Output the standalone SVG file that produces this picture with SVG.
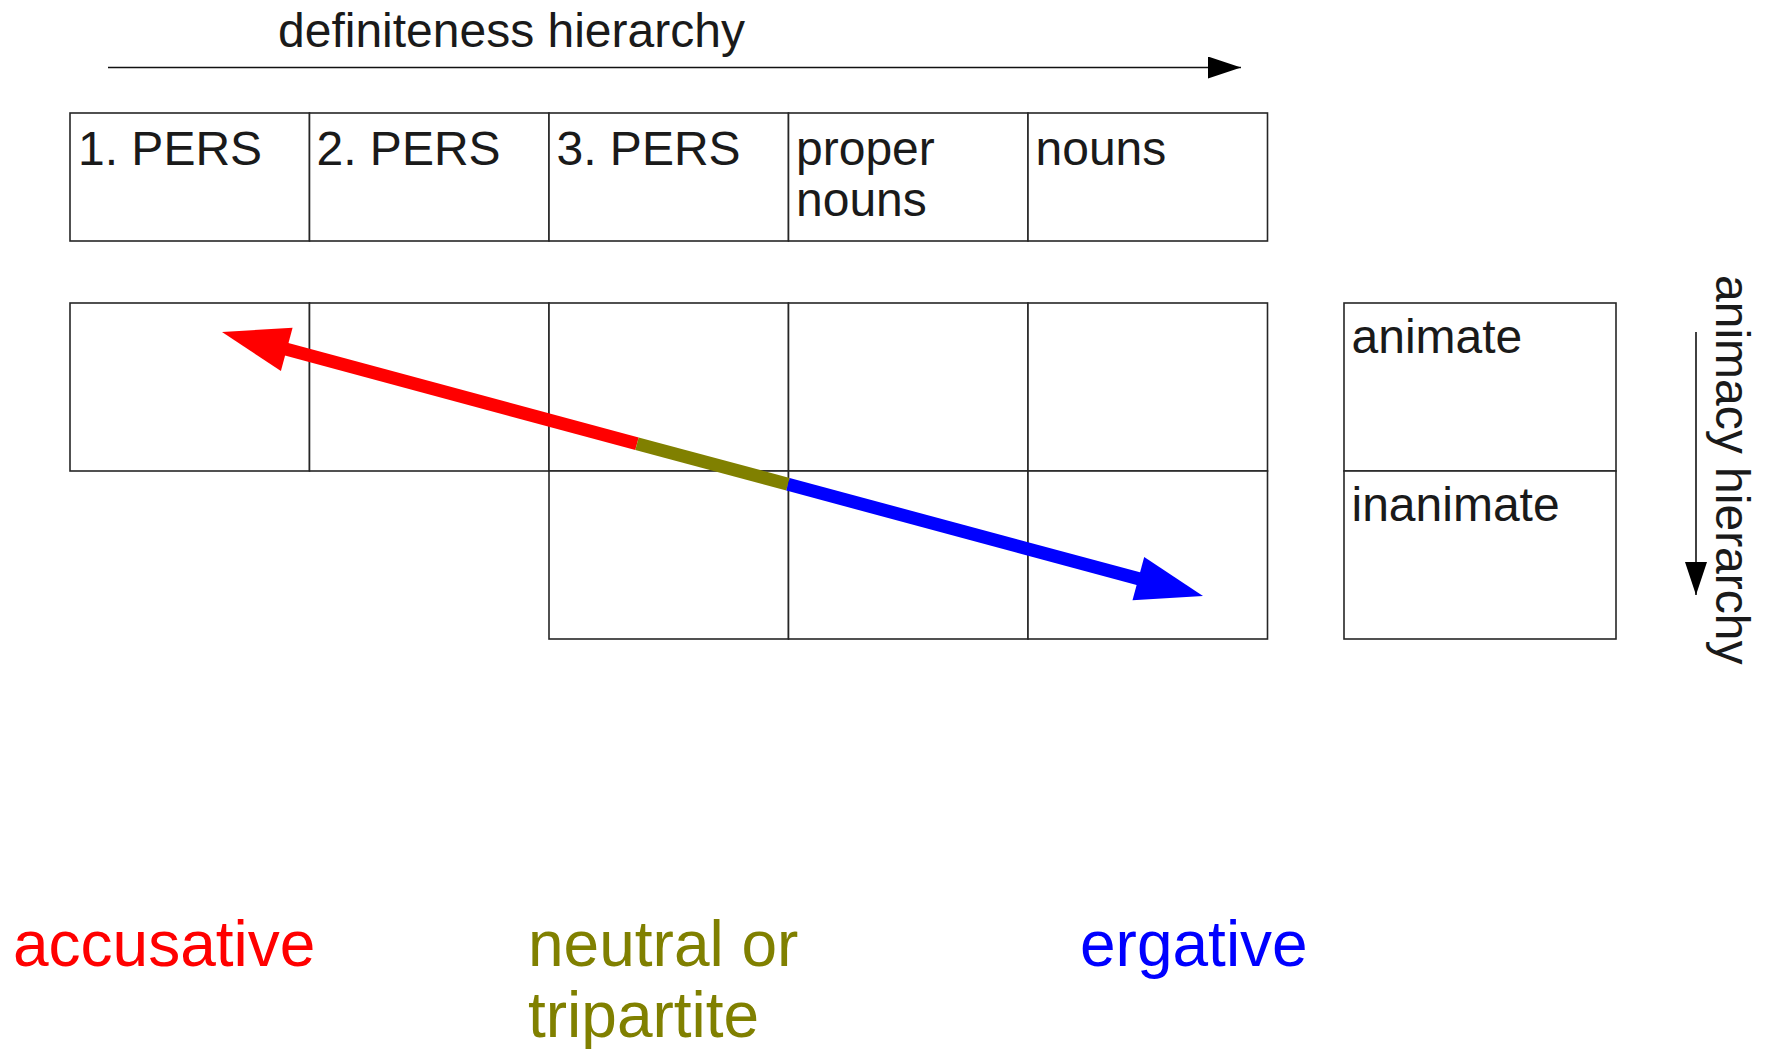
<svg xmlns="http://www.w3.org/2000/svg" width="1774" height="1049" viewBox="0 0 1774 1049">
<style>
text{font-family:"Liberation Sans",Arial,sans-serif;fill:#1a1a1a}
.cell{fill:#fff;stroke:#262626;stroke-width:1.6}
.lbl{font-size:48px}
.big{font-size:64px}
.axis{stroke:#111;stroke-width:1.6;fill:none}
</style>
<defs>
<marker id="ah" markerUnits="userSpaceOnUse" markerWidth="34" markerHeight="23" refX="33" refY="11" orient="auto" viewBox="0 0 34 23">
<path d="M0,0 L33,11 L0,22 z" fill="#000"/>
</marker>
</defs>
<rect width="1774" height="1049" fill="#fff"/>

<g id="definiteness-axis">
<text class="lbl" x="278" y="47">definiteness hierarchy</text>
</g>

<g id="top-row">
<g id="c-1pers"><rect class="cell" x="70" y="113" width="239.5" height="128"/><text class="lbl" x="78" y="165">1. PERS</text></g>
<g id="c-2pers"><rect class="cell" x="309.5" y="113" width="239.5" height="128"/><text class="lbl" x="316.5" y="165">2. PERS</text></g>
<g id="c-3pers"><rect class="cell" x="549" y="113" width="239.5" height="128"/><text class="lbl" x="556.5" y="165">3. PERS</text></g>
<g id="c-proper"><rect class="cell" x="788.5" y="113" width="239.5" height="128"/><text class="lbl" x="796" y="165">proper<tspan x="796" y="216">nouns</tspan></text></g>
<g id="c-nouns"><rect class="cell" x="1028" y="113" width="239.5" height="128"/><text class="lbl" x="1035.5" y="165">nouns</text></g>
</g>

<g id="grid-animate">
<rect class="cell" x="70" y="303" width="239.5" height="168"/>
<rect class="cell" x="309.5" y="303" width="239.5" height="168"/>
<rect class="cell" x="549" y="303" width="239.5" height="168"/>
<rect class="cell" x="788.5" y="303" width="239.5" height="168"/>
<rect class="cell" x="1028" y="303" width="239.5" height="168"/>
</g>
<g id="grid-inanimate">
<rect class="cell" x="549" y="471" width="239.5" height="168"/>
<rect class="cell" x="788.5" y="471" width="239.5" height="168"/>
<rect class="cell" x="1028" y="471" width="239.5" height="168"/>
</g>

<g id="animate"><rect class="cell" x="1344" y="303" width="272" height="168"/><text class="lbl" x="1351.5" y="353">animate</text></g>
<g id="inanimate"><rect class="cell" x="1344" y="471" width="272" height="168"/><text class="lbl" x="1351.5" y="521">inanimate</text></g>

<g id="animacy-axis">
<text class="lbl" transform="translate(1716,275) rotate(90)" x="0" y="0">animacy hierarchy</text>
</g>

<g id="connectors">
<line class="axis" x1="108" y1="67.5" x2="1241" y2="67.5" marker-end="url(#ah)"/>
<line class="axis" x1="1696" y1="332" x2="1696" y2="595" marker-end="url(#ah)"/>
<line x1="282" y1="348" x2="637" y2="443.7" stroke="#ff0000" stroke-width="13"/>
<polygon points="222,332 292.6,327.7 280.9,371.1" fill="#ff0000"/>
<line x1="637" y1="443.7" x2="788" y2="484.3" stroke="#808000" stroke-width="13"/>
<line x1="788" y1="484.3" x2="1142" y2="579.6" stroke="#0000ff" stroke-width="13"/>
<polygon points="1203,596 1132.5,600.3 1144.2,556.9" fill="#0000ff"/>
</g>

<g id="legend">
<text class="big" x="13" y="966" style="fill:#ff0000">accusative</text>
<text class="big" x="528" y="966" style="fill:#808000">neutral or<tspan x="528" y="1037">tripartite</tspan></text>
<text class="big" x="1080" y="966" style="fill:#0000ff">ergative</text>
</g>
</svg>
